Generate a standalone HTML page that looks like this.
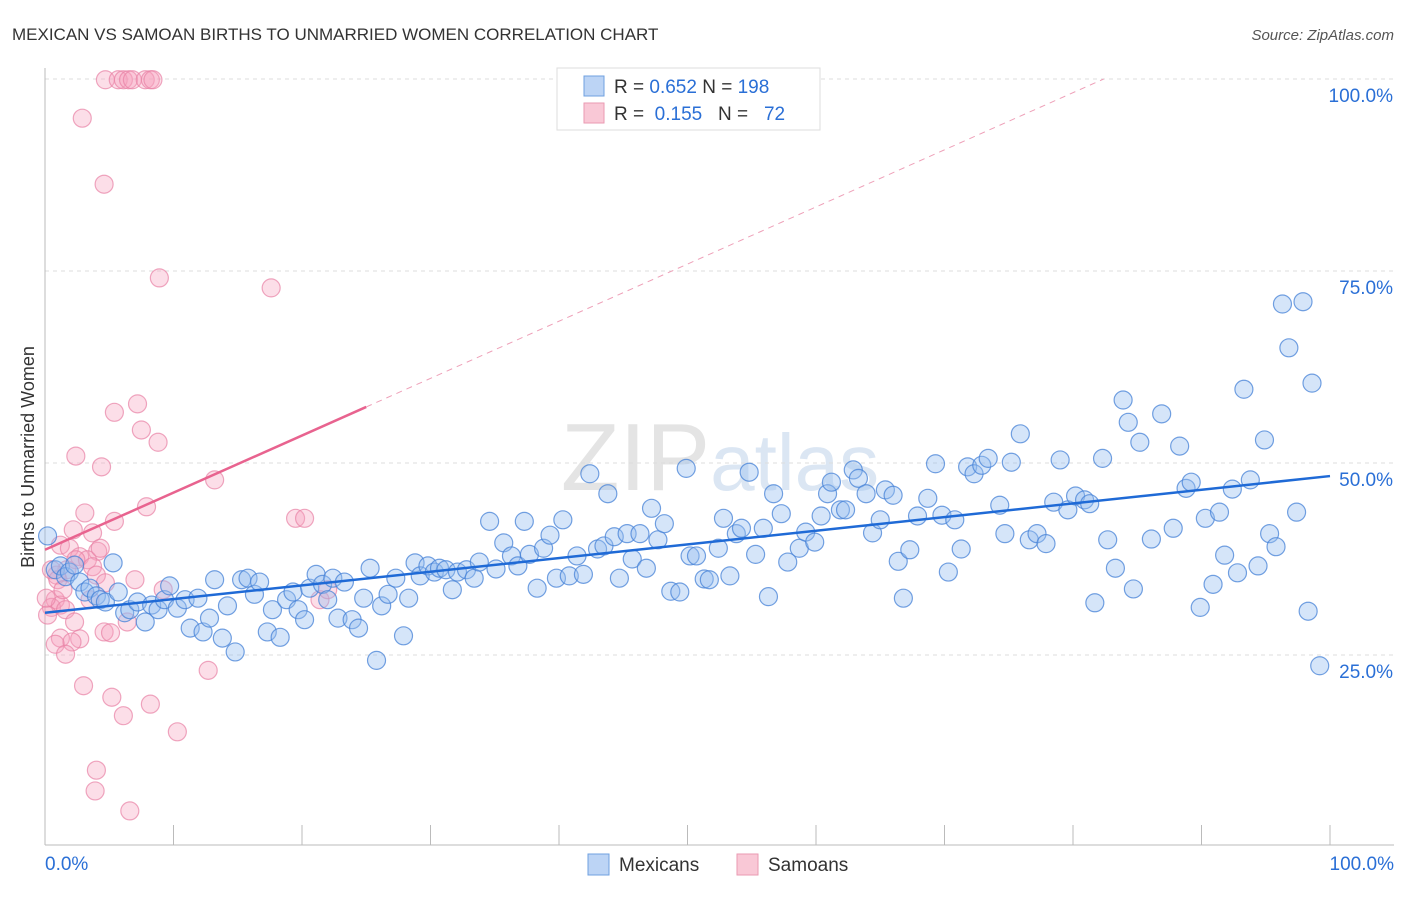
<!DOCTYPE html>
<html><head><meta charset="utf-8"><style>
body{margin:0;background:#fff;font-family:"Liberation Sans",sans-serif;}
#wrap{position:relative;width:1406px;height:892px;}
svg text{font-family:"Liberation Sans",sans-serif;}
</style></head><body>
<div id="wrap">
<svg id="chart" width="1406" height="892">
<text x="12" y="40" font-size="17" fill="#333">MEXICAN VS SAMOAN BIRTHS TO UNMARRIED WOMEN CORRELATION CHART</text>
<text x="1394" y="40" font-size="15" fill="#555" font-style="italic" text-anchor="end">Source: ZipAtlas.com</text>
<text x="720" y="490" font-size="96" fill="#e4e4e4" text-anchor="middle" font-family="Liberation Serif">ZIP<tspan fill="#dbe6f3" font-family="Liberation Sans" font-size="80">atlas</tspan></text>
<text transform="translate(34,457) rotate(-90)" font-size="18" fill="#333" text-anchor="middle">Births to Unmarried Women</text>
<g id="grid"></g><g id="axes"></g><g id="pts"></g><g id="trend"></g>
<g>
<rect x="557" y="68" width="263" height="62" fill="#fff" stroke="#ddd"/>
<rect x="584" y="76" width="20" height="20" fill="#bcd4f5" stroke="#6fa0e0"/>
<rect x="584" y="103" width="20" height="20" fill="#f9c8d6" stroke="#ea9ab2"/>
<text x="614" y="93" font-size="19" fill="#333">R = <tspan fill="#2a6fd6">0.652</tspan>   N = <tspan fill="#2a6fd6">198</tspan></text>
<text x="614" y="120" font-size="19" fill="#333" xml:space="preserve">R =  <tspan fill="#2a6fd6">0.155</tspan>   N =   <tspan fill="#2a6fd6">72</tspan></text>
</g>
<g>
<rect x="588" y="854" width="21" height="21" fill="#bcd4f5" stroke="#6fa0e0"/>
<text x="619" y="871" font-size="19" fill="#333">Mexicans</text>
<rect x="737" y="854" width="21" height="21" fill="#f9c8d6" stroke="#ea9ab2"/>
<text x="768" y="871" font-size="19" fill="#333">Samoans</text>
</g>
</svg></div>
<script>
const mexicans=[[0.2,40.5],[0.8,36.1],[1.2,36.6],[1.6,35.2],[1.9,35.8],[2.3,36.7],[2.7,34.5],[3.1,33.2],[3.5,33.7],[4.0,32.7],[4.3,32.2],[4.7,31.9],[5.3,37.0],[5.7,33.2],[6.2,30.5],[6.6,30.9],[7.2,31.9],[7.8,29.3],[8.3,31.5],[8.8,30.9],[9.3,32.2],[9.7,34.0],[10.3,31.1],[10.9,32.2],[11.3,28.5],[11.9,32.4],[12.3,28.0],[12.8,29.8],[13.2,34.8],[13.8,27.2],[14.2,31.4],[14.8,25.4],[15.3,34.8],[15.8,35.0],[16.3,32.9],[16.7,34.5],[17.3,28.0],[17.7,30.9],[18.3,27.3],[18.8,32.2],[19.3,33.2],[19.7,30.9],[20.2,29.6],[20.6,33.7],[21.1,35.5],[21.6,34.2],[22.0,32.2],[22.4,35.0],[22.8,29.8],[23.3,34.5],[23.9,29.6],[24.4,28.5],[24.8,32.4],[25.3,36.3],[25.8,24.3],[26.2,31.4],[26.7,32.9],[27.3,35.0],[27.9,27.5],[28.3,32.4],[28.8,37.0],[29.2,35.3],[29.8,36.6],[30.3,35.8],[30.7,36.3],[31.2,36.1],[31.7,33.5],[32.1,35.8],[32.8,36.1],[33.4,35.0],[33.8,37.1],[34.6,42.4],[35.1,36.2],[35.7,39.6],[36.3,37.9],[36.8,36.6],[37.3,42.4],[37.7,38.1],[38.3,33.7],[38.8,38.9],[39.3,40.6],[39.8,35.0],[40.3,42.6],[40.8,35.3],[41.4,37.9],[41.9,35.5],[42.4,48.6],[43.0,38.8],[43.5,39.2],[43.8,46.0],[44.3,40.4],[44.7,35.0],[45.3,40.8],[45.7,37.5],[46.3,40.8],[46.8,36.3],[47.2,44.1],[47.7,40.0],[48.2,42.1],[48.7,33.3],[49.4,33.2],[49.9,49.3],[50.2,37.9],[50.7,37.9],[51.3,34.9],[51.7,34.8],[52.4,38.9],[52.8,42.8],[53.3,35.3],[53.8,40.8],[54.2,41.5],[54.8,48.8],[55.3,38.1],[55.9,41.5],[56.3,32.6],[56.7,46.0],[57.3,43.4],[57.8,37.1],[58.7,38.9],[59.2,41.0],[59.9,39.7],[60.4,43.1],[60.9,46.0],[61.2,47.5],[61.9,43.9],[62.3,43.9],[62.9,49.1],[63.3,48.0],[63.9,46.0],[64.4,40.9],[65.0,42.6],[65.4,46.5],[66.0,45.8],[66.4,37.2],[66.8,32.4],[67.3,38.7],[67.9,43.1],[68.7,45.4],[69.3,49.9],[69.8,43.2],[70.3,35.8],[70.8,42.6],[71.3,38.8],[71.8,49.5],[72.3,48.6],[72.9,49.7],[73.4,50.6],[74.3,44.5],[74.7,40.8],[75.2,50.1],[75.9,53.8],[76.6,40.0],[77.2,40.8],[77.9,39.5],[78.5,44.9],[79.0,50.4],[79.6,43.9],[80.2,45.7],[80.9,45.2],[81.3,44.7],[81.7,31.8],[82.3,50.6],[82.7,40.0],[83.3,36.3],[83.9,58.2],[84.3,55.3],[84.7,33.6],[85.2,52.7],[86.1,40.1],[86.9,56.4],[87.8,41.5],[88.3,52.2],[88.8,46.7],[89.2,47.5],[89.9,31.2],[90.3,42.8],[90.9,34.2],[91.4,43.6],[91.8,38.0],[92.4,46.6],[92.8,35.7],[93.3,59.6],[93.8,47.8],[94.4,36.6],[94.9,53.0],[95.3,40.8],[95.8,39.1],[96.3,70.7],[96.8,65.0],[97.4,43.6],[97.9,71.0],[98.3,30.7],[98.6,60.4],[99.2,23.6]];
const samoans=[[4.7,99.9],[5.7,99.9],[6.1,99.9],[6.5,99.9],[6.8,99.9],[7.8,99.9],[8.2,99.9],[8.4,99.9],[2.9,94.9],[4.6,86.3],[8.9,74.1],[17.6,72.8],[5.4,56.6],[7.2,57.7],[7.5,54.3],[8.8,52.7],[2.4,50.9],[4.4,49.5],[13.2,47.8],[7.9,44.3],[19.5,42.8],[20.2,42.8],[5.4,42.4],[3.1,43.5],[2.2,41.3],[3.7,40.9],[1.2,39.3],[1.9,38.9],[2.7,37.8],[4.1,38.5],[3.3,37.4],[3.7,36.5],[4.0,35.4],[1.7,36.1],[0.9,35.4],[4.7,34.4],[7.0,34.8],[9.2,33.5],[0.8,32.2],[0.5,31.2],[1.2,31.5],[1.6,30.9],[0.2,30.2],[2.3,29.3],[6.4,29.3],[4.6,28.0],[5.1,27.9],[1.2,27.2],[2.7,27.1],[0.8,26.4],[2.1,26.7],[1.6,25.1],[12.7,23.0],[3.0,21.0],[5.2,19.5],[8.2,18.6],[6.1,17.1],[10.3,15.0],[4.0,10.0],[3.9,7.3],[6.6,4.7],[21.4,32.2],[22.0,33.5],[0.5,36.1],[0.1,32.4],[1.0,34.8],[1.4,33.5],[3.5,32.2],[4.3,38.9],[2.4,37.4]];
const mexTrend=[30.5,48.3];
const samTrend=[38.7,0.744];
const yTicks=[25,50,75,100];
const xTickLabels=["0.0%","100.0%"];
const NS='http://www.w3.org/2000/svg';
const X=v=>45+v*12.85, Y=v=>847-v*7.68;
function mk(tag,attrs,parent){const e=document.createElementNS(NS,tag);for(const k in attrs)e.setAttribute(k,attrs[k]);document.getElementById(parent).appendChild(e);return e;}
yTicks.forEach(t=>{
  const g=mk('line',{x1:45,x2:1394,y1:Y(t),y2:Y(t),stroke:'#ddd','stroke-dasharray':'4,4'},'grid');
  
  
  const l=mk('text',{x:1393,y:Y(t)+23,'font-size':19,fill:'#2a6fd6','text-anchor':'end'},'grid');
  l.textContent=t.toFixed(1)+'%';
  
  
});
let a=mk('line',{x1:45,x2:45,y1:68,y2:845,stroke:'#bbb'},'axes');


a=mk('line',{x1:45,x2:1394,y1:845,y2:845,stroke:'#bbb'},'axes');


for(let i=0;i<=10;i++){const t=mk('line',{x1:X(i*10),x2:X(i*10),y1:825,y2:845,stroke:'#bbb'},'axes');

}
[[0,'start',45],[1,'end',1394]].forEach(([i,an,x])=>{const t=mk('text',{x:x,y:870,'font-size':19,fill:'#2a6fd6','text-anchor':an},'axes');t.textContent=xTickLabels[i];

});
samoans.forEach(p=>{const c=mk('circle',{cx:X(p[0]),cy:Y(p[1]),r:9,fill:'rgba(245,160,190,0.35)',stroke:'rgba(232,130,165,0.7)','stroke-width':1.2},'pts');

});
mexicans.forEach(p=>{const c=mk('circle',{cx:X(p[0]),cy:Y(p[1]),r:9,fill:'rgba(150,190,240,0.4)',stroke:'rgba(70,130,215,0.75)','stroke-width':1.2},'pts');

});
let l=mk('line',{x1:X(0),y1:Y(mexTrend[0]),x2:X(100),y2:Y(mexTrend[1]),stroke:'#1f6ad6','stroke-width':2.5},'trend');


l=mk('line',{x1:X(0),y1:Y(samTrend[0]),x2:X(25),y2:Y(samTrend[0]+samTrend[1]*25),stroke:'#e8638f','stroke-width':2.5},'trend');


const xe=(100-samTrend[0])/samTrend[1];
l=mk('line',{x1:X(25),y1:Y(samTrend[0]+samTrend[1]*25),x2:X(xe),y2:Y(100),stroke:'#eea0b8','stroke-width':1,'stroke-dasharray':'6,5'},'trend');


</script>
</body></html>
